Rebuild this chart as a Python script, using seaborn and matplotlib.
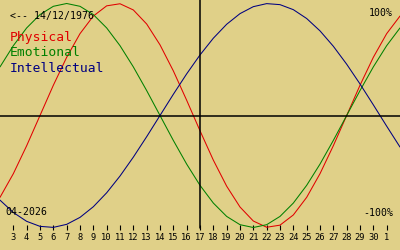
import matplotlib
matplotlib.use("Agg")
import matplotlib.pyplot as plt
import seaborn as sns
import pandas as pd

# Day of month (April 2026, continuing into May: 31 -> 1 May, 32 -> 2 May)
days = list(range(2, 33))
physical = [-0.7308, -0.5196, -0.2698, 0.0, 0.2698, 0.5196, 0.7308, 0.8879, 0.9791, 0.9977,
            0.9423, 0.8170, 0.6310, 0.3984, 0.1362, -0.1362, -0.3984, -0.6310, -0.8170, -0.9423,
            -0.9977, -0.9791, -0.8879, -0.7308, -0.5196, -0.2698, 0.0, 0.2698, 0.5196, 0.7308,
            0.8879]
emotional = [0.4339, 0.6235, 0.7818, 0.9010, 0.9749, 1.0, 0.9749, 0.9010, 0.7818, 0.6235,
             0.4339, 0.2225, 0.0, -0.2225, -0.4339, -0.6235, -0.7818, -0.9010, -0.9749, -1.0,
             -0.9749, -0.9010, -0.7818, -0.6235, -0.4339, -0.2225, 0.0, 0.2225, 0.4339, 0.6235,
             0.7818]
intellectual = [-0.7557, -0.8660, -0.9450, -0.9898, -0.9989, -0.9718, -0.9096, -0.8146, -0.6901,
                -0.5406, -0.3717, -0.1893, 0.0, 0.1893, 0.3717, 0.5406, 0.6901, 0.8146, 0.9096,
                0.9718, 0.9989, 0.9898, 0.9450, 0.8660, 0.7557, 0.6182, 0.4582, 0.2817, 0.0951,
                -0.0951, -0.2817]
tick_days = list(range(3, 32))
tick_labels = [str(d) for d in range(3, 31)] + ["1"]
today = 17
series_names = ["Physical", "Emotional", "Intellectual"]
series_colors = ["#e00000", "#008000", "#000080"]

bg = "#e0d088"
sns.set_style("white", {"axes.facecolor": bg, "figure.facecolor": bg})
plt.rcParams["font.family"] = ["DejaVu Sans Mono", "DejaVu Sans"]

df = pd.DataFrame({"day": days, "Physical": physical, "Emotional": emotional,
                   "Intellectual": intellectual})

fig = plt.figure(figsize=(4, 2.5), dpi=100)
ax = fig.add_axes([0, 0, 1, 1])
ax.set_facecolor(bg)

for name, col in zip(series_names, series_colors):
    sns.lineplot(data=df, x="day", y=name, color=col, lw=0.75, ax=ax)

ax.axhline(0, color="black", lw=1.1)
ax.axvline(today, ymin=0.088, ymax=1, color="black", lw=1.1)

px = 1 / 112.0
ax.set_xlim(2, 32)
ax.set_ylim(-(250 - 115.5) * px, 115.5 * px)

for s in ax.spines.values():
    s.set_visible(False)
ax.spines["bottom"].set_position(("axes", 0.1))
ax.set_xticks(tick_days)
ax.set_xticklabels(tick_labels, fontsize=6.3)
ax.tick_params(axis="x", bottom=True, direction="out", length=3.6, width=0.8,
               pad=2.2, colors="black")
ax.set_yticks([])
ax.set_xlabel("")
ax.set_ylabel("")

ax.text(10 / 400, 1 - 16 / 250, "<-- 14/12/1976", transform=ax.transAxes,
        fontsize=7.1, va="center", ha="left", color="black")
for i, (name, col) in enumerate(zip(series_names, series_colors)):
    ax.text(10 / 400, 1 - (38 + 15 * i) / 250, name, transform=ax.transAxes,
            fontsize=9.4, va="center", ha="left", color=col)
ax.text(393 / 400, 1 - 12.5 / 250, "100%", transform=ax.transAxes,
        fontsize=7.1, va="center", ha="right", color="black")
ax.text(393 / 400, 1 - 213 / 250, "-100%", transform=ax.transAxes,
        fontsize=7.1, va="center", ha="right", color="black")
ax.text(5 / 400, 1 - 212 / 250, "04-2026", transform=ax.transAxes,
        fontsize=7.1, va="center", ha="left", color="black")

fig.savefig("out.png", dpi=100, facecolor=bg)
